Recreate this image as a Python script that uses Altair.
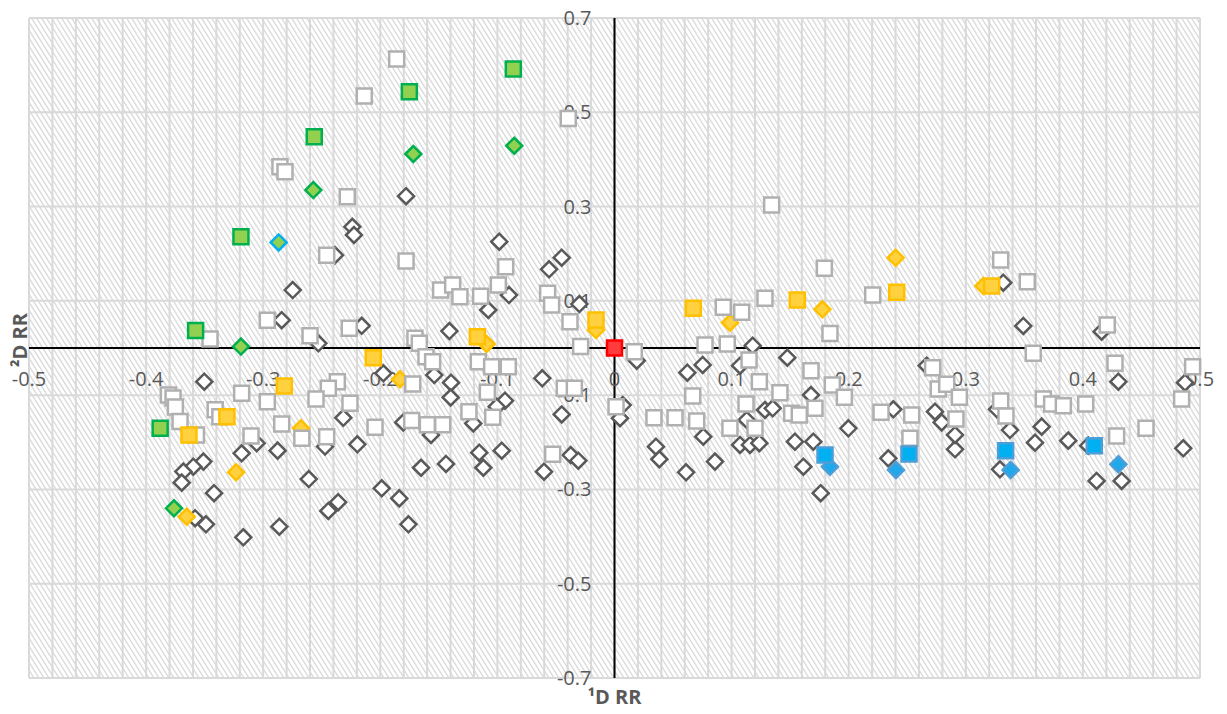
import altair as alt
import pandas as pd

# ---------------- data ----------------
# hollow diamonds (grey outline)
wd_x = [-0.2748, -0.2842, -0.2529, -0.3503, -0.2387, -0.178, -0.2239, -0.2225, -0.0984, -0.0451,
        -0.0559, -0.0901, -0.1078, -0.030, -0.141, -0.2159, -0.1974, -0.1539, -0.1396, -0.1399,
        -0.0935, -0.1006, -0.0617, -0.0451, -0.2316, -0.2472, -0.3056, -0.3184, -0.2877, -0.3511,
        -0.3597, -0.3682, -0.3696, -0.342, -0.2611, -0.236, -0.2444, -0.3582, -0.3489, -0.317,
        -0.2862, -0.2196, -0.1804, -0.1567, -0.1206, -0.1155, -0.0963, -0.112, -0.1652, -0.1439,
        -0.0374, -0.0309, -0.0602, -0.1988, -0.1838, -0.176,
        0.019, 0.007, 0.0047, 0.118, 0.1476, 0.1072, 0.0622, 0.0753, 0.1678, 0.1285,
        0.1351, 0.1129, 0.0758, 0.1072, 0.1157, 0.1237, 0.1541, 0.1698, 0.1997, 0.1613,
        0.0354, 0.0383, 0.0611, 0.0858, 0.1761, 0.2381, 0.2338, 0.2737, 0.2794, 0.2666,
        0.2908, 0.2908, 0.332, 0.3491, 0.416, 0.4303, 0.4872, 0.3266, 0.3377, 0.3292,
        0.3648, 0.3591, 0.3875, 0.4046, 0.4117, 0.4331, 0.4857]
wd_y = [0.123, 0.059, 0.010, -0.0714, 0.197, 0.322, 0.257, 0.2397, 0.2255, 0.1916,
        0.1669, 0.1124, 0.0806, 0.0933, 0.036, 0.047, -0.0537, -0.0573, -0.0735, -0.105,
        -0.1117, -0.1245, -0.0643, -0.141, -0.148, -0.209, -0.202, -0.2234, -0.2177, -0.241,
        -0.2517, -0.262, -0.2856, -0.308, -0.278, -0.327, -0.3457, -0.361, -0.374, -0.4015,
        -0.379, -0.2043, -0.158, -0.1845, -0.160, -0.222, -0.2178, -0.254, -0.254, -0.246,
        -0.227, -0.239, -0.2623, -0.2976, -0.319, -0.374,
        -0.027, -0.121, -0.149, 0.005, -0.0205, -0.0375, -0.0523, -0.036, -0.0997, -0.1315,
        -0.128, -0.1527, -0.188, -0.2057, -0.2057, -0.202, -0.1987, -0.1987, -0.1703, -0.2517,
        -0.2093, -0.236, -0.2637, -0.241, -0.308, -0.13, -0.234, -0.135, -0.158, -0.0375,
        -0.215, -0.1845, 0.1385, 0.0467, 0.0346, -0.0714, -0.0735, -0.13, -0.174, -0.2573,
        -0.1668, -0.2008, -0.1965, -0.2071, -0.282, -0.282, -0.2128]

# hollow squares (light outline)
ws_x = [-0.186, -0.2137, -0.0395, -0.2857, -0.2814, -0.2282, -0.2458, -0.178, -0.0929, -0.1485,
        -0.1382, -0.132, -0.1143, -0.0992, -0.0571, -0.0537, -0.038, -0.0289, -0.2965, -0.260,
        -0.3454, -0.2265, -0.1704, -0.1667, -0.161, -0.1553, -0.1723, -0.1163, -0.1049, -0.0907,
        -0.1086, -0.0429, -0.0343, -0.2367, -0.2444, -0.2259, -0.3184, -0.2965, -0.2549, -0.381,
        -0.377, -0.375, -0.371, -0.357, -0.341, -0.337, -0.2842, -0.267, -0.2458, -0.3104,
        -0.2045, -0.1732, -0.1598, -0.1467, -0.1243, -0.104, -0.0528, 0.0013,
        0.1342, 0.1792, 0.2205, 0.1285, 0.0929, 0.1086, 0.184, 0.0773, 0.0963, 0.0169,
        0.1149, 0.1678, 0.1237, 0.1413, 0.186, 0.1963, 0.0668, 0.1123, 0.1513, 0.1578,
        0.1712, 0.0337, 0.0517, 0.0702, 0.0986, 0.12, 0.2276, 0.2538, 0.2523, 0.2717,
        0.2765, 0.2837, 0.2945, 0.2916, 0.3298, 0.3525, 0.4208, 0.3576, 0.4274, 0.4937,
        0.3298, 0.3343, 0.3662, 0.3733, 0.3833, 0.4024, 0.4288, 0.4539, 0.4843]
ws_y = [0.613, 0.5345, 0.487, 0.3846, 0.374, 0.321, 0.197, 0.1845, 0.1725, 0.123,
        0.1336, 0.1088, 0.110, 0.1336, 0.116, 0.0912, 0.0558, 0.003, 0.059, 0.026,
        0.019, 0.0417, 0.0205, 0.010, -0.0184, -0.029, -0.0763, -0.029, -0.0396, -0.0396,
        -0.094, -0.0855, -0.0855, -0.0714, -0.0855, -0.1174, -0.096, -0.114, -0.108, -0.0997,
        -0.106, -0.125, -0.156, -0.1845, -0.131, -0.146, -0.161, -0.1915, -0.188, -0.1866,
        -0.168, -0.154, -0.163, -0.163, -0.135, -0.147, -0.2255, -0.1245,
        0.3033, 0.169, 0.1124, 0.1054, 0.0863, 0.0757, 0.031, 0.0064, 0.0085, -0.0078,
        -0.0254, -0.048, -0.0714, -0.0947, -0.0785, -0.1046, -0.1018, -0.1188, -0.1386, -0.142,
        -0.128, -0.1478, -0.1478, -0.1548, -0.1703, -0.1703, -0.1364, -0.142, -0.1915, -0.0418,
        -0.087, -0.077, -0.1046, -0.1506, 0.1866, 0.1406, 0.0488, -0.0113, -0.0325, -0.0396,
        -0.1124, -0.1442, -0.108, -0.1188, -0.1223, -0.1188, -0.1866, -0.1703, -0.108]

green_sq_x = [-0.0864, -0.1752, -0.2564, -0.319, -0.3577, -0.388]
green_sq_y = [0.5917, 0.5436, 0.448, 0.236, 0.037, -0.170]

green_dm_x = [-0.0856, -0.1718, -0.2572, -0.319, -0.3762]
green_dm_y = [0.429, 0.4115, 0.335, 0.003, -0.340]

green_blue_dm_x = [-0.2868]
green_blue_dm_y = [0.224]

yellow_sq_x = [-0.282, -0.331, -0.3634, -0.206, -0.1171, -0.0158, 0.0673, 0.1561, 0.241, 0.3221]
yellow_sq_y = [-0.0806, -0.146, -0.1845, -0.0205, 0.024, 0.0594, 0.0842, 0.1018, 0.118, 0.1315]

yellow_dm_x = [-0.2677, -0.3232, -0.3653, -0.1832, -0.1092, -0.0158, 0.0986, 0.1775, 0.2401, 0.315]
yellow_dm_y = [-0.170, -0.2637, -0.3578, -0.0665, 0.0085, 0.038, 0.0537, 0.082, 0.1915, 0.1315]

blue_sq_x = [0.1798, 0.2515, 0.334, 0.4097]
blue_sq_y = [-0.227, -0.2248, -0.2178, -0.2071]

blue_dm_x = [0.184, 0.2404, 0.3383, 0.4303]
blue_dm_y = [-0.2517, -0.2587, -0.2587, -0.2467]

red_sq_x = [0.0]
red_sq_y = [0.0]

# axis ticks and labels
x_ticks = [-0.5, -0.4, -0.3, -0.2, -0.1, 0.0, 0.1, 0.2, 0.3, 0.4, 0.5]
x_tick_labels = ["-0.5", "-0.4", "-0.3", "-0.2", "-0.1", "0", "0.1", "0.2", "0.3", "0.4", "0.5"]
y_ticks = [0.7, 0.5, 0.3, 0.1, -0.1, -0.3, -0.5, -0.7]
y_tick_labels = ["0.7", "0.5", "0.3", "0.1", "-0.1", "-0.3", "-0.5", "-0.7"]
x_grid = [round(-0.5 + 0.02 * i, 2) for i in range(51)]
y_grid = y_ticks
x_title_text = ["\u00b9D RR"]
y_title_text = ["\u00b2D RR"]

# ---------------- layout / style ----------------
W, H = 1171, 660
X0, X1, Y0, Y1 = -0.5, 0.5, -0.7, 0.7
FONT = "Open Sans"
TEXT = "#595959"
GRID = "#d9d9d9"

xs = alt.Scale(domain=[X0, X1], nice=False, zero=False)
ys = alt.Scale(domain=[Y0, Y1], nice=False, zero=False)


def X(field):
    return alt.X(field, scale=xs, axis=None)


def Y(field):
    return alt.Y(field, scale=ys, axis=None)


# background hatch: thin strokes running down to the right,
# generated as a sequence and clipped to the plot area
steep = 1.6                     # pixels down per pixel across
spacing_px = 5.0                # horizontal spacing of the strokes
run = (H / steep) / W * (X1 - X0)         # x shift from top edge to bottom edge
step = spacing_px / W * (X1 - X0)
n_lines = int((X1 - X0 + run) / step) + 2
hatch = (
    alt.Chart(alt.sequence(0, n_lines, as_="i"))
    .transform_calculate(
        xa=f"{X0 - run} + datum.i * {step}",
        xb=f"{X0 - run} + datum.i * {step} + {run}",
        ya=f"{Y1}",
        yb=f"{Y0}",
    )
    .mark_rule(color="#dadada", strokeWidth=1.4, clip=True)
    .encode(x=X("xa:Q"), x2="xb:Q", y=Y("ya:Q"), y2="yb:Q")
)

vgrid = alt.Chart(pd.DataFrame({"v": x_grid})).mark_rule(color=GRID, strokeWidth=2).encode(
    x=X("v:Q")
)
hgrid = alt.Chart(pd.DataFrame({"v": y_grid})).mark_rule(color=GRID, strokeWidth=2).encode(
    y=Y("v:Q")
)
x_axis_line = alt.Chart(pd.DataFrame({"v": [0.0]})).mark_rule(color="black", strokeWidth=2).encode(
    y=Y("v:Q")
)
y_axis_line = alt.Chart(pd.DataFrame({"v": [0.0]})).mark_rule(color="black", strokeWidth=2).encode(
    x=X("v:Q")
)

x_labels = alt.Chart(
    pd.DataFrame({"v": x_ticks, "t": x_tick_labels, "z": [0.0] * len(x_ticks)})
).mark_text(
    font=FONT, fontSize=20, color=TEXT, align="center", baseline="middle", dy=32
).encode(x=X("v:Q"), y=Y("z:Q"), text="t:N")

y_labels = alt.Chart(
    pd.DataFrame({"v": y_ticks, "t": y_tick_labels, "z": [0.0] * len(y_ticks)})
).mark_text(
    font=FONT, fontSize=20, color=TEXT, align="right", baseline="middle", dx=-23, dy=1
).encode(y=Y("v:Q"), x=X("z:Q"), text="t:N")

x_title = alt.Chart(pd.DataFrame({"t": x_title_text})).mark_text(
    font=FONT, fontSize=20, fontWeight="bold", color=TEXT, align="center", baseline="middle"
).encode(x=alt.value(W / 2), y=alt.value(H + 20), text="t:N")

y_title = alt.Chart(pd.DataFrame({"t": y_title_text})).mark_text(
    font=FONT, fontSize=20, fontWeight="bold", color=TEXT, align="center", baseline="middle",
    angle=270
).encode(x=alt.value(-8), y=alt.value(322), text="t:N")


def points(px, py, shape, fill, stroke, size, sw=2.5):
    df = pd.DataFrame({"x": px, "y": py})
    return alt.Chart(df).mark_point(
        shape=shape, filled=True, fill=fill, stroke=stroke, strokeWidth=sw,
        size=size, opacity=1
    ).encode(x=X("x:Q"), y=Y("y:Q"))


SQ = 225
DM = 256
layers = [
    hatch, vgrid, hgrid, x_axis_line, y_axis_line, x_labels, y_labels, x_title, y_title,
    points(wd_x, wd_y, "diamond", "#ffffff", "#595959", DM),
    points(green_dm_x, green_dm_y, "diamond", "#92d050", "#00b050", DM),
    points(yellow_dm_x, yellow_dm_y, "diamond", "#ffd13f", "#ffc000", DM),
    points(blue_dm_x, blue_dm_y, "diamond", "#1fa8ea", "#4c9ed9", DM),
    points(green_blue_dm_x, green_blue_dm_y, "diamond", "#92d050", "#00b0f0", DM),
    points(ws_x, ws_y, "square", "#ffffff", "#b0b0b0", SQ),
    points(yellow_sq_x, yellow_sq_y, "square", "#ffd13f", "#ffc000", SQ),
    points(green_sq_x, green_sq_y, "square", "#92d050", "#00b050", SQ),
    points(blue_sq_x, blue_sq_y, "square", "#00b0f0", "#4c9ed9", SQ),
    points(red_sq_x, red_sq_y, "square", "#ff3b3b", "#ff0000", SQ),
]

chart = alt.layer(*layers).properties(
    width=W, height=H,
    padding={"left": 29, "top": 18, "right": 27, "bottom": 36},
    autosize="none",
    background="white",
).configure_view(stroke=None)

chart.save("out.html", embed_options={"renderer": "svg", "actions": False})
